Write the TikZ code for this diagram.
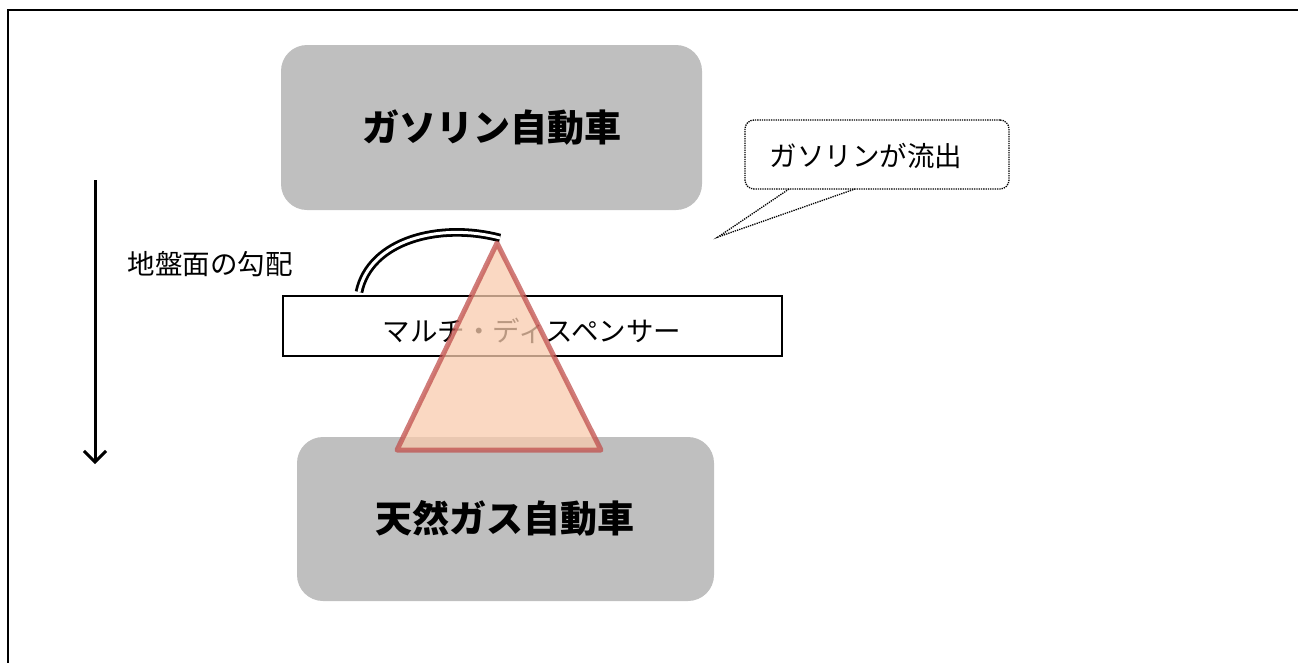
\documentclass[tikz,border=0pt]{standalone}
\usepackage{fontspec}
\setmainfont{Noto Sans CJK JP}
\usetikzlibrary{arrows.meta}
\definecolor{boxgray}{HTML}{BFBFBF}
\definecolor{tri}{HTML}{F8CBAD}
\definecolor{triedge}{HTML}{C0504D}
\tikzset{
  carbox/.style={fill=boxgray, draw=none, rounded corners=26pt, inner sep=0pt},
  cartext/.style={font=\fontsize{37}{42}\selectfont\bfseries},
  plaintext/.style={font=\fontsize{27.5}{32}\selectfont, inner sep=0pt},
}
\begin{document}
\begin{tikzpicture}[x=1pt,y=-1pt]
\useasboundingbox (0,0) rectangle (1298,662);
% frame
\draw[line width=2.7pt] (8,664) -- (8,10) -- (1300,10);
% car boxes
\node[carbox, minimum width=421pt, minimum height=165pt] (gas) at (491.5,127.5) {};
\node[cartext] (gastext) at (492,128) {ガソリン自動車};
\node[carbox, minimum width=417pt, minimum height=164pt] (ngv) at (505.5,519) {};
\node[cartext] (ngvtext) at (505,518) {天然ガス自動車};
% dispenser
\node[draw, line width=2.6pt, minimum width=499pt, minimum height=60pt, inner sep=0pt] (disp) at (532.5,326) {};
\node[plaintext] (disptext) at (532,331) {マルチ・ディスペンサー};
% hose (double line)
\coordinate (h1) at (359,292);
\coordinate (h2) at (500,238);
\draw[line width=2.8pt, double distance=3pt] (h1) .. controls (370,240) and (440,222) .. (h2);
% triangle
\coordinate (ta) at (497,243);
\coordinate (tl) at (397,450);
\coordinate (tr) at (601,450);
\filldraw[fill=tri, fill opacity=0.75, draw=triedge, draw opacity=0.75, line width=5pt, line join=round] (ta) -- (tr) -- (tl) -- cycle;
% callout
\node[draw, densely dotted, line width=1.3pt, rounded corners=9pt, minimum width=264pt, minimum height=69pt, inner sep=0pt] (call) at (877,154.5) {};
\node[plaintext] (calltext) at (866,156) {ガソリンが流出};
\coordinate (ctip) at (718,237);
\coordinate (cp1) at (789,189);
\coordinate (cp2) at (855,189);
\draw[densely dotted, line width=1.3pt] (cp1) -- (ctip) -- (cp2);
% slope arrow
\coordinate (a1) at (95,180);
\coordinate (a2) at (95,464);
\draw[line width=3pt, -{Straight Barb[length=11pt,width=22pt,line width=3pt]}] (a1) -- (a2);
\node[plaintext] (slope) at (210,264) {地盤面の勾配};
\end{tikzpicture}
\end{document}
